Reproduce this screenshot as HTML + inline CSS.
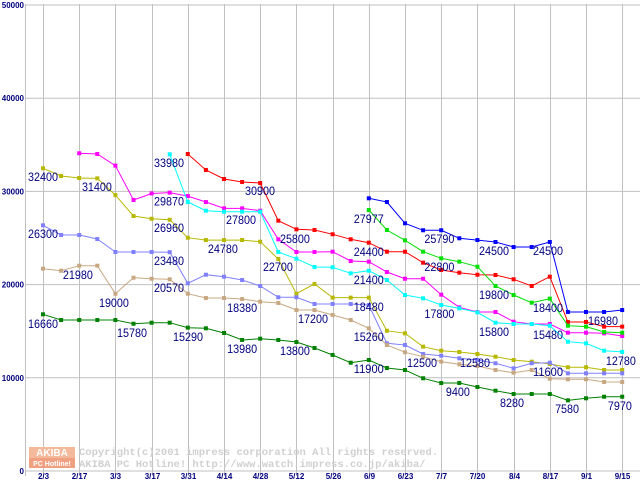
<!DOCTYPE html>
<html><head><meta charset="utf-8"><style>
html,body{margin:0;padding:0;background:#fff;width:640px;height:480px;overflow:hidden}
svg{display:block}
</style></head><body>
<svg id="chart" width="640" height="480" xmlns="http://www.w3.org/2000/svg" font-family="Liberation Sans, sans-serif">
<g id="grid"></g>
<g id="watermark">
<rect x="29" y="447" width="46" height="11" fill="#f4b89a"/>
<rect x="29" y="458" width="46" height="10" fill="#f0a080"/>
<text x="52" y="456" font-size="10" font-weight="bold" fill="#fff" text-anchor="middle">AKIBA</text>
<text x="52" y="466" font-size="7" font-weight="bold" fill="#fff" text-anchor="middle">PC Hotline!</text>
<text x="79" y="455" font-size="10.5" font-family="Liberation Mono, monospace" font-weight="bold" fill="#d0d0d0">Copyright(c)2001 impress corporation All rights reserved.</text>
<text x="79" y="467" font-size="10.5" font-family="Liberation Mono, monospace" font-weight="bold" fill="#d0d0d0">AKIBA PC Hotline!  http://www.watch.impress.co.jp/akiba/</text>
</g>
<g id="series"></g>
<g id="labels"></g>
</svg>
<script>
const xTickLabels=["2/3","2/17","3/3","3/17","3/31","4/14","4/28","5/12","5/26","6/9","6/23","7/7","7/20","8/4","8/17","9/1","9/15"];
const yTicks=[0,10000,20000,30000,40000,50000];
const N=null;
const seriesColors=["#ff0000","#ff00ff","#00ffff","#b8b800","#8080ff","#c8a882","#008000","#00e000","#0000ff"];
const redVals=[N,N,N,N,N,N,N,N,34010,32300,31330,31010,30900,26860,25930,25860,25400,24860,24500,23530,23530,22350,21570,21280,21060,21030,20570,19850,20850,15990,15990,15490,15490];
const magentaVals=[N,N,34090,34010,32760,29080,29780,29870,29500,28860,28180,28180,27930,24860,23500,23500,23530,22530,22460,21350,20630,20630,18920,17560,17060,17060,16020,15770,15770,14840,14840,14770,14480];
const cyanVals=[N,N,N,N,N,N,N,33980,28860,27930,27820,27820,27820,23500,22780,21890,21860,21210,21490,20490,18880,18530,17810,17450,17020,15910,15770,15770,15590,13870,13700,12910,12780];
const oliveVals=[32480,31650,31440,31400,29600,27360,27070,26960,25030,24780,24780,24780,24600,22750,19020,20070,18600,18600,18600,15050,14770,13340,12910,12770,12550,12260,11910,11730,11480,11130,11130,10840,10840];
const lavenderVals=[26360,25320,25320,24890,23500,23500,23500,23480,20140,21060,20850,20490,19850,18640,18640,17920,17920,17920,17810,13700,13520,12550,12370,12090,11910,11560,11020,11560,11620,10480,10480,10480,10480];
const beigeVals=[21710,21490,22030,22030,19020,20740,20630,20570,19020,18560,18560,18450,18170,18030,17270,17270,16740,16200,15310,13520,12740,12260,11730,11450,11270,10840,10550,10840,9900,9840,9840,9550,9550];
const darkGreenVals=[16810,16200,16200,16200,16200,15800,15910,15910,15380,15310,14810,14060,14200,14060,13840,13200,12450,11620,11910,11050,10840,9950,9440,9440,9010,8620,8260,8260,8260,7580,7800,7970,7970];
const greenVals=[N,N,N,N,N,N,N,N,N,N,N,N,N,N,N,N,N,N,28000,25860,24750,23530,22820,22460,21920,19850,18880,18060,18490,15590,15490,14910,14840];
const blueVals=[N,N,N,N,N,N,N,N,N,N,N,N,N,N,N,N,N,N,29260,28860,26580,25830,25830,24970,24780,24570,24030,24030,24570,17060,17060,17060,17270];
const seriesNames=["red","magenta","cyan","olive","lavender","beige","dark-green","green","blue"];
const allSeries=[redVals,magentaVals,cyanVals,oliveVals,lavenderVals,beigeVals,darkGreenVals,greenVals,blueVals];
const labelTexts=["32400","31400","33980","29870","30900","26300","26960","27800","24780","25800","21980","23480","22700","19000","20570","18380","17200","16660","15780","15290","13980","13800","27977","24400","25790","22800","24500","24500","21400","19800","18400","18480","17800","15800","15480","16980","15260","12500","12580","11600","12780","11900","9400","8280","7580","7970"];
const labelIndex=[0,2.98,6.96,6.96,11.99,0,6.96,10.94,9.94,13.92,1.93,6.96,12.98,3.92,6.96,11,14.92,0,4.92,8.01,11,13.92,18,18,21.9,21.9,24.92,27.9,18,24.92,27.9,18,21.9,24.92,27.9,30.94,18,20.94,23.87,27.9,31.93,18,23.09,26.08,29.12,32.04];
const labelValues=[31545,30472,33047,28895,30043,25429,26073,26931,23820,24893,21030,22532,21888,18026,19635,17489,16309,15773,14807,14378,13090,12876,27039,23498,24893,21888,23605,23605,20494,18884,17489,17597,16845,14914,14592,16094,14378,11588,11588,10622,11803,10944,8476,7296,6652,6974];

const x=i=>43+i*18.1;
const y=v=>471-v*0.00932;
const SVGNS="http://www.w3.org/2000/svg";
const grid=document.getElementById('grid');
function mk(tag,attrs,parent){const e=document.createElementNS(SVGNS,tag);for(const k in attrs)e.setAttribute(k,attrs[k]);parent.appendChild(e);return e;}
yTicks.forEach(v=>{
  const l=mk('line',{x1:25,x2:640,y1:y(v),y2:y(v),stroke:'#c0c0c0','stroke-width':1},grid);
  
  
  const t=mk('text',{x:24,y:y(v)+3,'font-size':8,'font-weight':'bold',fill:'#000080','text-anchor':'end'},grid);
  t.textContent=v;
  
  
});
const ax=mk('line',{x1:25.5,x2:25.5,y1:4,y2:476,stroke:'#c0c0c0','stroke-width':1},grid);


xTickLabels.forEach((s,k)=>{
  const xx=Math.round(x(k*2))+0.5;
  const l=mk('line',{x1:xx,x2:xx,y1:4,y2:476,stroke:'#c0c0c0','stroke-width':1},grid);
  
  
  const t=mk('text',{x:xx,y:479,'font-size':8,'font-weight':'bold',fill:'#000080','text-anchor':'middle'},grid);
  t.textContent=s;
  
  
});
const sg=document.getElementById('series');
allSeries.forEach((vals,si)=>{
  const g=mk('g',{},sg);
  
  
  let pts=[];
  vals.forEach((v,i)=>{if(v!==null)pts.push(x(i).toFixed(1)+','+y(v).toFixed(1));});
  const pl=mk('polyline',{points:pts.join(' '),fill:'none',stroke:seriesColors[si],'stroke-width':1},g);
  
  
  vals.forEach((v,i)=>{if(v===null)return;
    const r=mk('rect',{x:x(i)-2,y:y(v)-2,width:4,height:4,fill:seriesColors[si]},g);
    
    
  });
});
const lg=document.getElementById('labels');
labelTexts.forEach((s,k)=>{
  const t=mk('text',{x:x(labelIndex[k])-15,y:y(labelValues[k])+4,'font-size':12,fill:'#000080',textLength:30,lengthAdjust:'spacingAndGlyphs'},lg);
  if(s.length===4)t.setAttribute('textLength',24);
  t.textContent=s;
  
  
});
</script>
</body></html>
